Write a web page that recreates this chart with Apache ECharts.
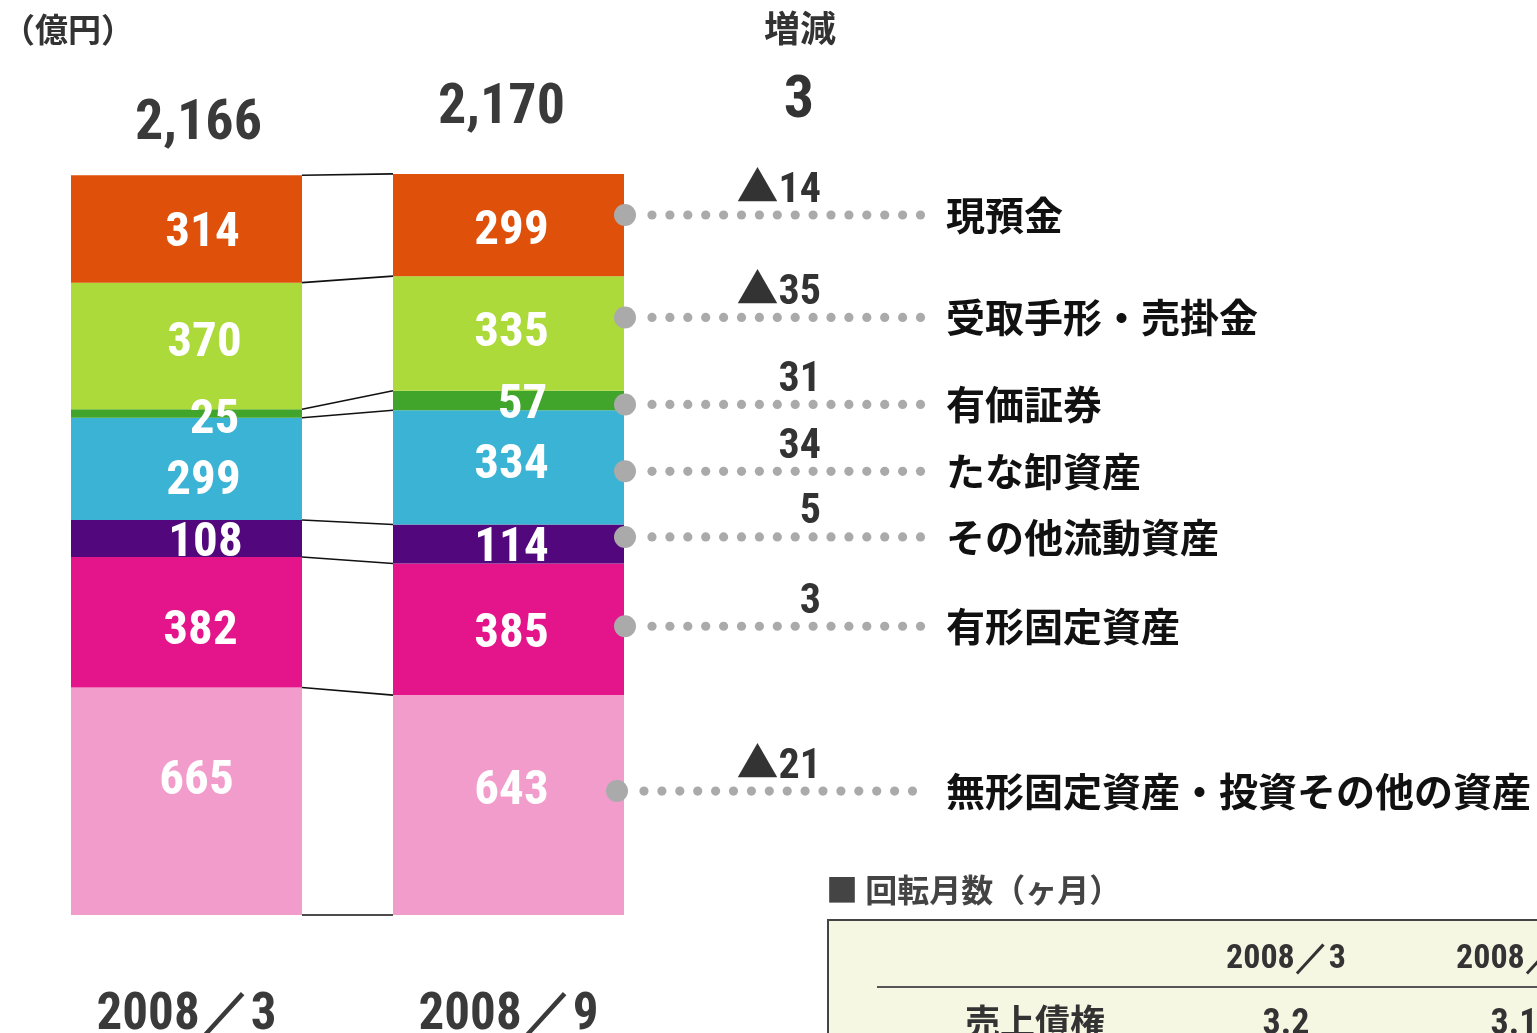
<!DOCTYPE html>
<html>
<head>
<meta charset="utf-8">
<script src="https://cdn.jsdelivr.net/npm/echarts@6/dist/echarts.min.js"></script>
<style>
html,body{margin:0;padding:0;background:#fff;}
#chart{width:1537px;height:1033px;}
</style>
</head>
<body>
<div id="chart"></div>
<script>
// ---------------- DATA ----------------
const periods = ['2008／3', '2008／9'];
const items = ['現預金', '受取手形・売掛金', '有価証券', 'たな卸資産', 'その他流動資産', '有形固定資産', '無形固定資産・投資その他の資産'];
const valuesMar = [314, 370, 25, 299, 108, 382, 665];
const valuesSep = [299, 335, 57, 334, 114, 385, 643];
const changes = ['▲14', '▲35', '31', '34', '5', '3', '▲21'];
const totals = ['2,166', '2,170'];
const totalChange = '3';
const unitLabel = '（億円）';
const changeTitle = '増減';
const turnoverTitle = '■ 回転月数（ヶ月）';
const turnoverHeaders = ['2008／3', '2008／9'];
const turnoverRows = ['売上債権'];
const turnoverMar = [3.2];
const turnoverSep = [3.1];

// ---------------- STYLE ----------------
const colors = ['#df500a', '#abda3a', '#41a42b', '#3bb3d4', '#52087c', '#e4148a', '#f29ccc'];
const NUM_FONT = "'Roboto Condensed', 'DejaVu Sans Condensed', 'Liberation Sans Narrow', 'Liberation Sans', sans-serif";
const CHG_FONT = "'Roboto Condensed', 'Noto Sans CJK JP', sans-serif";
const JP_FONT = "'Noto Sans CJK JP', sans-serif";
const BAR_W = 231;
// label offsets [dx, dy] per item for each period (pixels)
const labelOffMar = [[16,5],[18,-2],[28,7],[17,13],[19,5],[14,10],[10,-20]];
const labelOffSep = [[3,7],[3,0],[14,5],[3,-2],[3,5],[3,5],[3,-13]];
const leaderDy = [-10, -16, 4, 4, -7, -3, -14];
const leaderDx = [0, 0, 0, 0, 0, 0, -8];
const totalOff = [[12, -50], [-7, -65]];

// ---------------- DERIVED ----------------
const n = items.length;
const order = items.map((_, i) => n - 1 - i); // last item at the bottom of the stack
function cumulative(vals) {
  const c = [0];
  for (let k = n - 1; k >= 0; k--) c.push(c[c.length - 1] + vals[k]);
  return c;
}
const cumMar = cumulative(valuesMar);
const cumSep = cumulative(valuesSep);
function midOf(vals, idx) {
  let base = 0;
  for (let k = n - 1; k > idx; k--) base += vals[k];
  return base + vals[idx] / 2;
}

const barSeries = order.map(idx => ({
  name: items[idx],
  type: 'bar',
  stack: 'total',
  barWidth: BAR_W,
  itemStyle: { color: colors[idx] },
  emphasis: { disabled: true },
  label: {
    show: true,
    position: 'inside',
    color: '#fff',
    fontFamily: NUM_FONT,
    fontWeight: 'bold',
    fontSize: 49
  },
  data: [
    { value: valuesMar[idx], label: { offset: labelOffMar[idx] } },
    { value: valuesSep[idx], label: { offset: labelOffSep[idx] } }
  ],
  z: 2
}));

const connectorSeries = {
  type: 'custom',
  silent: true,
  clip: false,
  z: 3,
  data: cumMar.map((v, i) => [0, v, cumSep[i]]),
  encode: { x: 0, y: [1, 2] },
  renderItem: function (params, api) {
    const i = params.dataIndex;
    const p1 = api.coord([0, cumMar[i]]);
    const p2 = api.coord([1, cumSep[i]]);
    return {
      type: 'line',
      shape: { x1: p1[0] + BAR_W / 2, y1: p1[1], x2: p2[0] - BAR_W / 2, y2: p2[1] },
      style: { stroke: '#111', lineWidth: 1.6 }
    };
  }
};

const annotationSeries = {
  type: 'custom',
  silent: true,
  clip: false,
  z: 4,
  data: items.map((_, k) => [1, midOf(valuesSep, k)]),
  encode: { x: 0, y: 1 },
  renderItem: function (params, api) {
    const k = params.dataIndex;
    const p = api.coord([1, midOf(valuesSep, k)]);
    const x0 = p[0] + BAR_W / 2 + leaderDx[k];
    const y = p[1] + leaderDy[k];
    const children = [];
    children.push({ type: 'circle', shape: { cx: x0 + 1, cy: y, r: 11 }, style: { fill: '#aaaaaa' } });
    for (let d = 0; d < 16; d++) {
      children.push({ type: 'circle', shape: { cx: x0 + 28 + d * 17.9, cy: y, r: 4.6 }, style: { fill: '#aaaaaa' } });
    }
    children.push({
      type: 'text',
      x: p[0] + BAR_W / 2 + 197, y: y - 24,
      style: { text: changes[k], fill: '#333', font: 'bold 42px ' + CHG_FONT, align: 'right', verticalAlign: 'middle' }
    });
    children.push({
      type: 'text',
      x: p[0] + BAR_W / 2 + 322, y: y,
      style: { text: items[k], fill: '#111', font: 'bold 39px ' + JP_FONT, align: 'left', verticalAlign: 'middle' }
    });
    return { type: 'group', children: children };
  }
};

const totalSeries = {
  type: 'custom',
  silent: true,
  clip: false,
  z: 4,
  data: [[0, cumMar[n]], [1, cumSep[n]]],
  encode: { x: 0, y: 1 },
  renderItem: function (params, api) {
    const i = params.dataIndex;
    const p = api.coord([i, i === 0 ? cumMar[n] : cumSep[n]]);
    return {
      type: 'text',
      x: p[0] + totalOff[i][0], y: p[1] + totalOff[i][1],
      style: { text: totals[i], fill: '#3a3a3a', font: 'bold 56px ' + NUM_FONT, align: 'center', verticalAlign: 'middle' }
    };
  }
};

const chart = echarts.init(document.getElementById('chart'));
chart.setOption({
  animation: false,
  backgroundColor: '#fff',
  grid: { left: 25.5, width: 644, top: 60, height: 855, containLabel: false, outerBoundsMode: 'none' },
  xAxis: {
    type: 'category',
    data: periods,
    axisLine: { show: false },
    axisTick: { show: false },
    axisLabel: {
      margin: 76,
      fontSize: 51,
      fontWeight: 'bold',
      fontFamily: NUM_FONT,
      color: '#3a3a3a',
      verticalAlign: 'top'
    }
  },
  yAxis: {
    type: 'value',
    min: 0,
    max: 2500,
    show: false
  },
  series: barSeries.concat([connectorSeries, annotationSeries, totalSeries]),
  graphic: [
    { type: 'text', left: 2, top: 13, style: { text: unitLabel, fill: '#333', font: 'bold 33px ' + JP_FONT } },
    { type: 'text', x: 800, y: 28, style: { text: changeTitle, fill: '#333', font: 'bold 36px ' + JP_FONT, align: 'center', verticalAlign: 'middle' } },
    { type: 'text', x: 799, y: 102, style: { text: totalChange, fill: '#333', font: 'bold 60px ' + NUM_FONT, align: 'center', verticalAlign: 'middle' } },
    { type: 'text', x: 826, y: 890, style: { text: turnoverTitle, fill: '#444', font: 'bold 32px ' + JP_FONT, align: 'left', verticalAlign: 'middle' } },
    { type: 'rect', shape: { x: 828, y: 920, width: 760, height: 160 }, style: { fill: '#f6f7e3', stroke: '#444', lineWidth: 2 } },
    { type: 'line', shape: { x1: 877, y1: 987, x2: 1537, y2: 987 }, style: { stroke: '#555', lineWidth: 2 } },
    { type: 'text', x: 1286, y: 959, style: { text: turnoverHeaders[0], fill: '#333', font: 'bold 34px ' + NUM_FONT, align: 'center', verticalAlign: 'middle' } },
    { type: 'text', x: 1516, y: 959, style: { text: turnoverHeaders[1], fill: '#333', font: 'bold 34px ' + NUM_FONT, align: 'center', verticalAlign: 'middle' } },
    { type: 'text', x: 1035, y: 1022, style: { text: turnoverRows[0], fill: '#333', font: 'bold 35px ' + JP_FONT, align: 'center', verticalAlign: 'middle' } },
    { type: 'text', x: 1286, y: 1025, style: { text: String(turnoverMar[0]), fill: '#333', font: 'bold 36px ' + NUM_FONT, align: 'center', verticalAlign: 'middle' } },
    { type: 'text', x: 1514, y: 1025, style: { text: String(turnoverSep[0]), fill: '#333', font: 'bold 36px ' + NUM_FONT, align: 'center', verticalAlign: 'middle' } }
  ]
});
</script>
</body>
</html>
